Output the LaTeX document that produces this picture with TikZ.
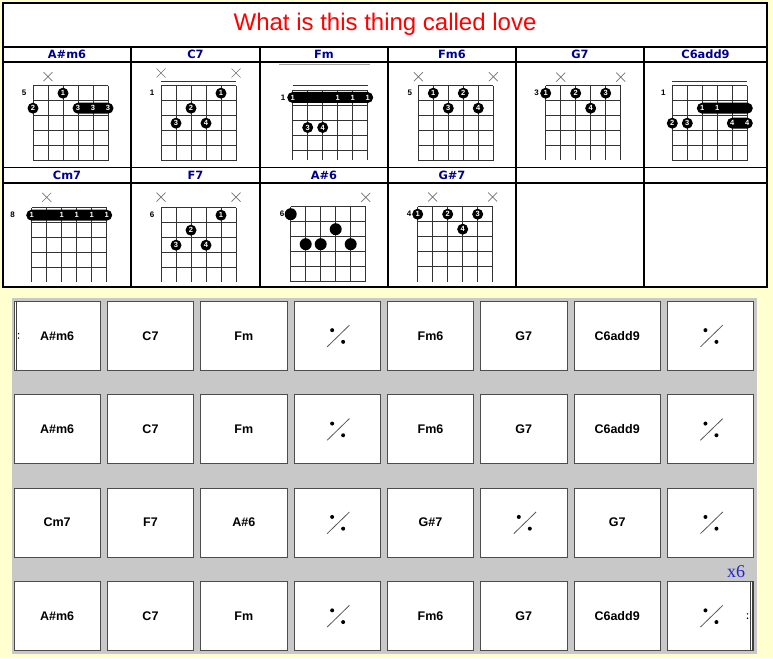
\documentclass[tikz,border=0pt]{standalone}
\usepackage{fontspec}
\setmainfont{Liberation Sans}
\newfontfamily\dejavu{DejaVu Sans}
\newfontfamily\xsixfont{Liberation Serif}
\usetikzlibrary{calc}
\definecolor{bgyellow}{RGB}{255,255,208}
\definecolor{panelgray}{RGB}{200,200,200}
\definecolor{navyhdr}{RGB}{0,0,140}
\definecolor{xsixblue}{RGB}{34,34,204}
\newcounter{dn}
\tikzset{
  gridln/.style={draw=black!80, line width=0.8pt},
  tline/.style={draw=black, line width=1.2pt},
  fdot/.style={circle, fill=black, inner sep=0pt, minimum size=11pt, text=white, font=\bfseries\fontsize{7.5}{8}\selectfont},
  fnum/.style={inner sep=0pt, text=white, font=\bfseries\fontsize{7.5}{8}\selectfont},
  bigdot/.style={circle, fill=black, inner sep=0pt, minimum size=12pt},
  fretlab/.style={inner sep=0pt, font=\bfseries\fontsize{8}{9}\selectfont},
  xmark/.style={draw=black!55, line width=0.7pt},
  hdr/.style={inner sep=0pt, text=navyhdr, font=\dejavu\bfseries\fontsize{11.4}{13}\selectfont},
  chordbox/.style={draw=black!70, fill=white, line width=0.9pt, minimum width=86.3pt, minimum height=68.7pt, inner sep=0pt, font=\bfseries\fontsize{12.5}{14}\selectfont},
  simline/.style={draw=black!65, line width=0.8pt}
}
\newcommand\fgrid[2]{%
  \foreach \i in {0,...,5} \draw[gridln] ({15*\i},0) -- ({15*\i},#2);
  \foreach \j in {1,...,#1} \draw[gridln] (0,{15*(\j-1)}) -- (75,{15*(\j-1)});}
\newcommand\fd[3]{\stepcounter{dn}\node[fdot] (d\arabic{dn}) at ({15*(#1-1)},{15*#2-7.5}) {#3};}
\newcommand\fbig[2]{\stepcounter{dn}\node[bigdot] (d\arabic{dn}) at ({15*(#1-1)},{15*#2-7.5}) {};}
\newcommand\fbar[3]{\fill[rounded corners=5.5pt] ({15*(#1-1)-5.5},{15*#3-13}) rectangle ({15*(#2-1)+5.5},{15*#3-2});}
\newcommand\fbn[3]{\stepcounter{dn}\node[fnum] (d\arabic{dn}) at ({15*(#1-1)},{15*#2-7.5}) {#3};}
\newcommand\fx[2]{\draw[xmark] ({15*(#1-1)-4.5},{#2-4.5}) -- ++(9,9) ({15*(#1-1)+4.5},{#2-4.5}) -- ++(-9,9);}
\newcommand\flab[2]{\stepcounter{dn}\node[fretlab] (d\arabic{dn}) at (#1,7.5) {#2};}
\newcommand\cbox[3]{\node[chordbox] (b#1#2) at ({57.15+93.33*#2},{335.85+93.4*#1}) {#3};}
\newcommand\simbox[2]{\cbox{#1}{#2}{}%
  \draw[simline] ($(b#1#2.center)+(-10,11)$) -- ($(b#1#2.center)+(12.3,-10.7)$);
  \fill ($(b#1#2.center)+(-5,-5.7)$) circle (2pt);
  \fill ($(b#1#2.center)+(6,6)$) circle (2pt);}
\begin{document}
\begin{tikzpicture}[x=1pt,y=-1pt]
\useasboundingbox (0,0) rectangle (773,658);
\fill[bgyellow] (0,0) rectangle (773,658);
% ---------- top table ----------
\fill[white] (3,3) rectangle (767,287);
\draw[tline] (3,3) rectangle (767,287);
\foreach \yy in {47,62,167.5,183} \draw[tline] (3,\yy) -- (767,\yy);
\foreach \xx in {131,260,388,516,644} \draw[tline] (\xx,47) -- (\xx,287);
\node[text=red, font=\fontsize{24}{28}\selectfont, inner sep=0pt] (title) at (385,24) {What is this thing called love};
\node[hdr] (h1) at (67,54.5) {A\#m6};
\node[hdr] (h2) at (195.5,54.5) {C7};
\node[hdr] (h3) at (324,54.5) {Fm};
\node[hdr] (h4) at (452,54.5) {Fm6};
\node[hdr] (h5) at (580,54.5) {G7};
\node[hdr] (h6) at (705.5,54.5) {C6add9};
\node[hdr] (h7) at (67,175) {Cm7};
\node[hdr] (h8) at (195.5,175) {F7};
\node[hdr] (h9) at (324,175) {A\#6};
\node[hdr] (h10) at (452,175) {G\#7};
% A#m6
\begin{scope}[shift={(33,85.7)}]
  \fgrid{6}{75}\fx{2}{-9}\flab{-9}{5}
  \fd{3}{1}{1}\fd{1}{2}{2}
  \fbar{4}{6}{2}\fbn{4}{2}{3}\fbn{5}{2}{3}\fbn{6}{2}{3}
\end{scope}
% C7
\begin{scope}[shift={(161,85.7)}]
  \fgrid{6}{75}\draw[gridln] (0,-4.7) -- (75,-4.7);
  \fx{1}{-12.7}\fx{6}{-12.7}\flab{-9}{1}
  \fd{5}{1}{1}\fd{3}{2}{2}\fd{2}{3}{3}\fd{4}{3}{4}
\end{scope}
% Fm
\begin{scope}[shift={(292.7,90)}]
  \fgrid{5}{70}\draw[gridln] (0,-4.3) -- (75,-4.3);
  \draw[black!35, line width=0.8pt] (-13.7,-26) -- (77.3,-26);
  \flab{-9.5}{1}
  \fbar{1}{6}{1}\fbn{1}{1}{1}\fbn{4}{1}{1}\fbn{5}{1}{1}\fbn{6}{1}{1}
  \fd{2}{3}{3}\fd{3}{3}{4}
\end{scope}
% Fm6
\begin{scope}[shift={(418.3,85.7)}]
  \fgrid{6}{75}\fx{1}{-9}\fx{6}{-9}\flab{-8.5}{5}
  \fd{2}{1}{1}\fd{4}{1}{2}\fd{3}{2}{3}\fd{5}{2}{4}
\end{scope}
% G7
\begin{scope}[shift={(545.7,85.7)}]
  \fgrid{5}{74.3}\fx{2}{-8.5}\fx{6}{-8.5}\flab{-9}{3}
  \fd{1}{1}{1}\fd{3}{1}{2}\fd{5}{1}{3}\fd{4}{2}{4}
\end{scope}
% C6add9
\begin{scope}[shift={(672.3,85.7)}]
  \fgrid{6}{75}\draw[gridln] (0,-4) -- (75,-4);
  \flab{-9}{1}
  \fbar{3}{6}{2}\fbn{3}{2}{1}\fbn{4}{2}{1}
  \fd{1}{3}{2}\fd{2}{3}{3}
  \fbar{5}{6}{3}\fbn{5}{3}{4}\fbn{6}{3}{4}
\end{scope}
% Cm7
\begin{scope}[shift={(31.7,207.7)}]
  \fgrid{5}{74}\fx{2}{-10.4}\flab{-19}{8}
  \fbar{1}{6}{1}\fbn{1}{1}{1}\fbn{3}{1}{1}\fbn{4}{1}{1}\fbn{5}{1}{1}\fbn{6}{1}{1}
\end{scope}
% F7
\begin{scope}[shift={(161,207.7)}]
  \fgrid{5}{74}\fx{1}{-10.5}\fx{6}{-10.5}\flab{-9}{6}
  \fd{5}{1}{1}\fd{3}{2}{2}\fd{2}{3}{3}\fd{4}{3}{4}
\end{scope}
% A#6
\begin{scope}[shift={(290.7,206.7)}]
  \fgrid{6}{75}\fx{6}{-9.4}\flab{-8.7}{6}
  \fbig{1}{1}\fbig{4}{2}\fbig{2}{3}\fbig{3}{3}\fbig{5}{3}
\end{scope}
% G#7
\begin{scope}[shift={(417.7,206.7)}]
  \fgrid{5}{75}\fx{2}{-9.7}\fx{6}{-9.7}\flab{-8.7}{4}
  \fd{1}{1}{1}\fd{3}{1}{2}\fd{5}{1}{3}\fd{4}{2}{4}
\end{scope}
% ---------- chord chart ----------
\fill[panelgray] (12,298.3) rectangle (757.3,654.3);
\cbox{0}{0}{A\#m6}\cbox{0}{1}{C7}\cbox{0}{2}{Fm}\simbox{0}{3}
\cbox{0}{4}{Fm6}\cbox{0}{5}{G7}\cbox{0}{6}{C6add9}\simbox{0}{7}
\cbox{1}{0}{A\#m6}\cbox{1}{1}{C7}\cbox{1}{2}{Fm}\simbox{1}{3}
\cbox{1}{4}{Fm6}\cbox{1}{5}{G7}\cbox{1}{6}{C6add9}\simbox{1}{7}
\cbox{2}{0}{Cm7}\cbox{2}{1}{F7}\cbox{2}{2}{A\#6}\simbox{2}{3}
\cbox{2}{4}{G\#7}\simbox{2}{5}\cbox{2}{6}{G7}\simbox{2}{7}
\cbox{3}{0}{A\#m6}\cbox{3}{1}{C7}\cbox{3}{2}{Fm}\simbox{3}{3}
\cbox{3}{4}{Fm6}\cbox{3}{5}{G7}\cbox{3}{6}{C6add9}\simbox{3}{7}
% repeat signs
\draw[black!75, line width=1.3pt] ($(b00.north west)+(2.7,0)$) -- ($(b00.south west)+(2.7,0)$);
\fill ($(b00.west)+(5,-2.2)$) circle (0.8pt);
\fill ($(b00.west)+(5,2.2)$) circle (0.8pt);
\draw[black!75, line width=2pt] ($(b37.north east)+(-1,0)$) -- ($(b37.south east)+(-1,0)$);
\draw[black!75, line width=0.8pt] ($(b37.north east)+(-4,0)$) -- ($(b37.south east)+(-4,0)$);
\fill ($(b37.east)+(-6.6,-2.2)$) circle (0.8pt);
\fill ($(b37.east)+(-6.6,2.2)$) circle (0.8pt);
\node[text=xsixblue, font=\xsixfont\fontsize{18}{20}\selectfont, inner sep=0pt] (xsix) at (736,571.5) {x6};
\end{tikzpicture}
\end{document}
